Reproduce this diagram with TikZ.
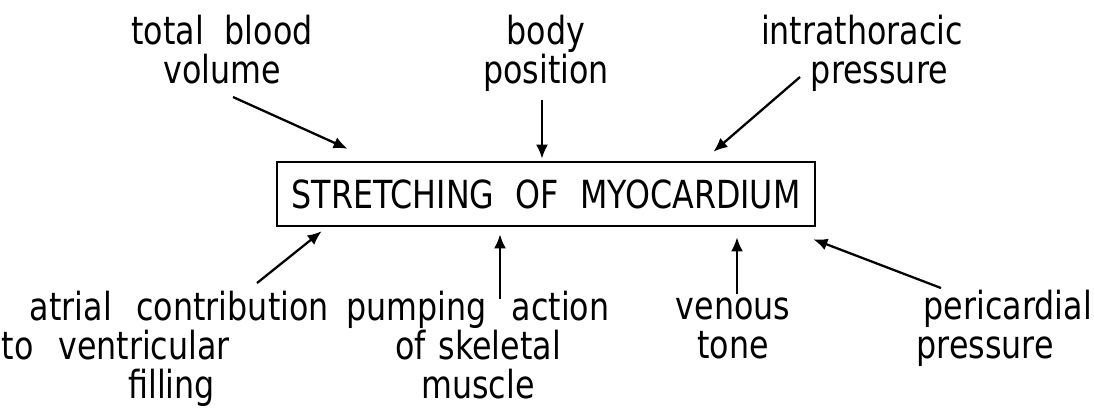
\documentclass[tikz,border=0pt]{standalone}
\usepackage{fontspec}
\setmainfont{DejaVu Sans}[FakeStretch=0.82,WordSpace=1.3]
\usetikzlibrary{arrows.meta,calc}

\tikzset{
  lbl/.style={align=center,inner sep=0pt,font=\fontsize{11}{11}\selectfont},
  arr/.style={-{Latex[length=4pt,width=3.4pt]},line width=0.65pt},
}

\begin{document}
\begin{tikzpicture}[x=0.01cm,y=-0.01cm]
  \useasboundingbox (0,0) rectangle (1094,411);

  % Central box
  \node[draw,line width=0.7pt,minimum width=5.38cm,minimum height=0.64cm,inner sep=0pt,
    font=\fontsize{11}{11}\selectfont] (stretch) at (546,194)
    {STRETCHING\hspace{0.55em}OF\hspace{0.55em}MYOCARDIUM};

  % Influences from above (base = last line)
  \node[lbl,anchor=base] (volume) at (222,83) {total\hspace{0.2em} blood\\volume};
  \node[lbl,anchor=base] (posture) at (546,83) {body\\position};
  \node[lbl,anchor=base] (thorax) at (862,83) {intrathoracic\\\hspace*{0.9em}pressure};

  % Influences from below
  \node[lbl,align=left,anchor=base west] (atrial) at (1,398)
    {\hspace*{8pt}atrial\hspace{0.3em} contribution\\to\hspace{0.3em} ventricular\\\hspace*{36pt}filling};
  \node[lbl,anchor=base] (pumping) at (478,398) {pumping\hspace{0.3em} action\\of skeletal\\muscle};
  \node[lbl,anchor=base] (venous) at (733,358) {venous\\tone};
  \node[lbl,align=left,anchor=base west] (pericard) at (916,358)
    {\hspace*{2pt}pericardial\\pressure};

  % Arrows into the box
  \draw[arr] ($(volume.base)+(11,14)$) -- ($(stretch.north west)+(72,-12)$);
  \draw[arr] ($(posture.base)+(-4,17)$) -- ($(stretch.north)+(-4,-2)$);
  \draw[arr] ($(thorax.base)+(-62,-6)$) -- ($(stretch.north east)+(-103,-9)$);
  \draw[arr] ($(atrial.base west)+(256,-115)$) -- ($(stretch.south west)+(46,4)$);
  \draw[arr] ($(pumping.base)+(22,-99)$) -- ($(stretch.south)+(-46,7)$);
  \draw[arr] ($(venous.base)+(4,-64)$) -- ($(stretch.south)+(191,10)$);
  \draw[arr] ($(pericard.base west)+(25,-70)$) -- ($(stretch.south east)+(-3,12)$);
\end{tikzpicture}
\end{document}
